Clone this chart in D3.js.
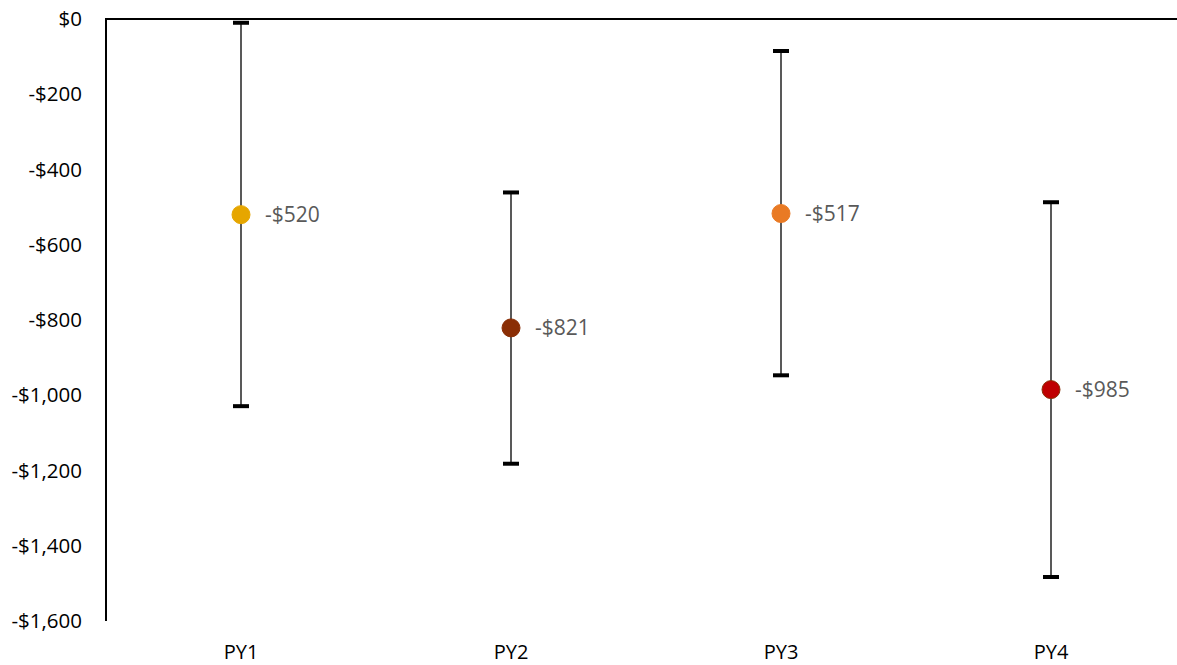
<!DOCTYPE html>
<html><head><meta charset="utf-8">
<script src="https://cdn.jsdelivr.net/npm/d3@7"></script>
<style>body{margin:0;background:#fff}svg{display:block}</style>
</head><body><svg id="c" width="1177" height="665"></svg>
<script>
const categories = ["PY1", "PY2", "PY3", "PY4"];
const values = [-520, -821, -517, -985];
const upper = [-10, -461, -85, -487];
const lower = [-1029, -1182, -947, -1483];
const labels = ["-$520", "-$821", "-$517", "-$985"];
const colors = ["#E6A600", "#8A2E05", "#E97A24", "#BF0000"];
const strokes = ["#E6A600", "#8A2E05", "#E97A24", "#8A2E05"];
const yTicks = [0, -200, -400, -600, -800, -1000, -1200, -1400, -1600];

const svg = d3.select("#c");
const x = d3.scaleBand().domain(categories).range([106, 1186]).padding(0);
const y = d3.scaleLinear().domain([0, -1600]).range([19, 621]);
const cx = c => x(c) + x.bandwidth() / 2;
const font = "'Open Sans', 'Liberation Sans', sans-serif";

const fmt = v => v === 0 ? "$0" : "-$" + d3.format(",")(Math.abs(v));

// y axis
const yAxis = svg.append("g").attr("transform", "translate(106,0)")
  .call(d3.axisLeft(y).tickValues(yTicks).tickFormat(fmt).tickSize(0).tickPadding(24));
yAxis.select(".domain").remove();
yAxis.selectAll("text").attr("font-family", font).attr("font-size", 20.5).attr("fill", "#000");
svg.append("line").attr("x1", 106).attr("x2", 106).attr("y1", y(0)).attr("y2", y(-1600))
  .attr("stroke", "#000").attr("stroke-width", 2);

// top axis line at zero
svg.append("line").attr("x1", 105).attr("x2", 1177).attr("y1", y(0)).attr("y2", y(0))
  .attr("stroke", "#000").attr("stroke-width", 2);

// x labels
svg.selectAll("text.xl").data(categories).join("text").attr("class", "xl")
  .attr("x", d => cx(d)).attr("y", 659).attr("text-anchor", "middle")
  .attr("font-family", font).attr("font-size", 20).attr("fill", "#000").text(d => d);

// error bars
const g = svg.append("g");
categories.forEach((c, i) => {
  g.append("line").attr("x1", cx(c)).attr("x2", cx(c)).attr("y1", y(upper[i])).attr("y2", y(lower[i]))
    .attr("stroke", "#595959").attr("stroke-width", 2);
  [upper[i], lower[i]].forEach(v => {
    g.append("line").attr("x1", cx(c) - 8).attr("x2", cx(c) + 8).attr("y1", y(v)).attr("y2", y(v))
      .attr("stroke", "#000").attr("stroke-width", 4);
  });
});

// points
svg.selectAll("circle.pt").data(categories).join("circle").attr("class", "pt")
  .attr("cx", d => cx(d)).attr("cy", (d, i) => y(values[i])).attr("r", 9)
  .attr("fill", (d, i) => colors[i]).attr("stroke", (d, i) => strokes[i]).attr("stroke-width", 1);

// labels
svg.selectAll("text.dl").data(categories).join("text").attr("class", "dl")
  .attr("x", d => cx(d) + 24).attr("y", (d, i) => y(values[i])).attr("dy", "0.35em")
  .attr("font-family", font).attr("font-size", 21).attr("fill", "#595959").text((d, i) => labels[i]);
</script></body></html>
